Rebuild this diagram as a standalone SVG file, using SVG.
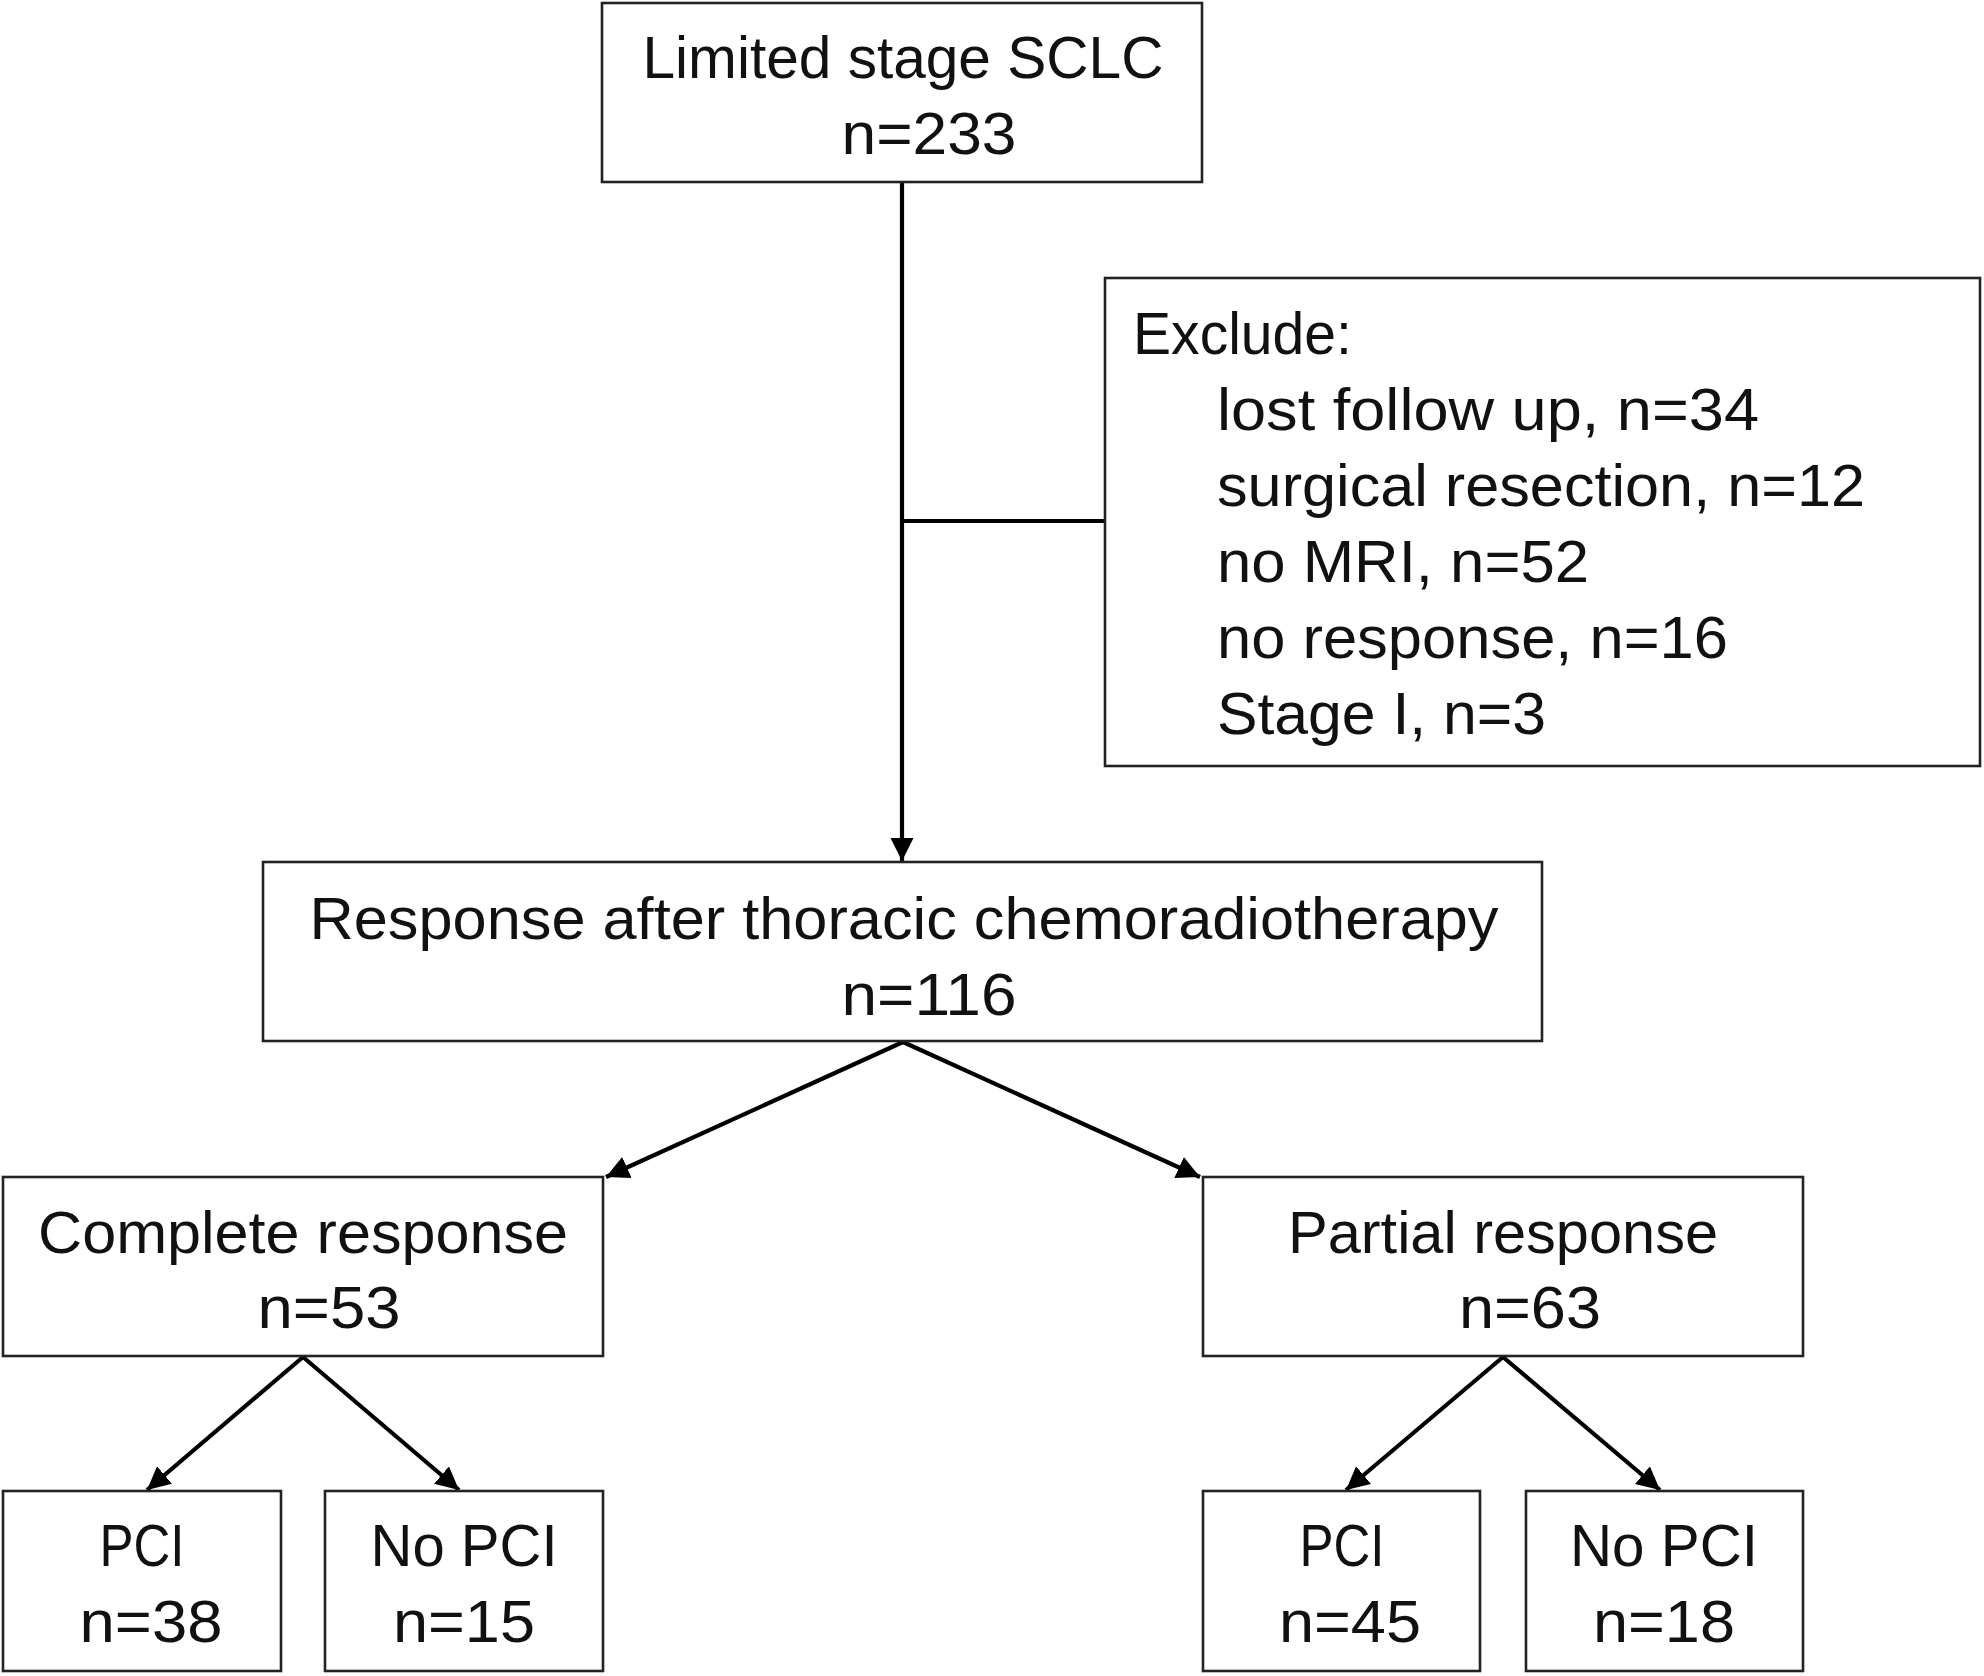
<svg xmlns="http://www.w3.org/2000/svg" width="1984" height="1676" viewBox="0 0 1984 1676">
<style>
.box{fill:#fff;stroke:#222;stroke-width:2.6}
.t{font-family:"Liberation Sans","Noto Sans",Arial,sans-serif;font-size:60px;fill:#111}
.c{text-anchor:middle}
.l{text-anchor:start}
.con{stroke:#000;stroke-width:4.2;fill:none}
</style>
<defs>
<marker id="ah" markerUnits="userSpaceOnUse" markerWidth="26" markerHeight="24" refX="23" refY="11.5" orient="auto">
<path d="M0,0 L23,11.5 L0,23 Z" fill="#000"/>
</marker>
</defs>
<rect width="1984" height="1676" fill="#fff"/>
<g id="connectors">
<line class="con" x1="902" y1="182" x2="902" y2="861" marker-end="url(#ah)"/>
<line class="con" x1="902" y1="521" x2="1105" y2="521"/>
<line class="con" x1="903" y1="1042" x2="606" y2="1177" marker-end="url(#ah)"/>
<line class="con" x1="903" y1="1042" x2="1200" y2="1177" marker-end="url(#ah)"/>
<line class="con" x1="303" y1="1357" x2="147" y2="1490" marker-end="url(#ah)"/>
<line class="con" x1="303" y1="1357" x2="459" y2="1490" marker-end="url(#ah)"/>
<line class="con" x1="1503" y1="1357" x2="1346" y2="1490" marker-end="url(#ah)"/>
<line class="con" x1="1503" y1="1357" x2="1660" y2="1490" marker-end="url(#ah)"/>
</g>
<g id="n-limited">
<rect class="box" x="602" y="3" width="600" height="179"/>
<text class="t c" x="903" y="78" textLength="521" lengthAdjust="spacingAndGlyphs">Limited stage SCLC</text>
<text class="t c" x="929" y="154" textLength="175" lengthAdjust="spacingAndGlyphs">n=233</text>
</g>
<g id="n-exclude">
<rect class="box" x="1105" y="278" width="875" height="488"/>
<text class="t l" x="1133" y="354" textLength="219" lengthAdjust="spacingAndGlyphs">Exclude:</text>
<text class="t l" x="1217" y="430" textLength="542" lengthAdjust="spacingAndGlyphs">lost follow up, n=34</text>
<text class="t l" x="1217" y="506" textLength="648" lengthAdjust="spacingAndGlyphs">surgical resection, n=12</text>
<text class="t l" x="1217" y="582" textLength="372" lengthAdjust="spacingAndGlyphs">no MRI, n=52</text>
<text class="t l" x="1217" y="658" textLength="511" lengthAdjust="spacingAndGlyphs">no response, n=16</text>
<text class="t l" x="1217" y="734" textLength="329" lengthAdjust="spacingAndGlyphs">Stage I, n=3</text>
</g>
<g id="n-response">
<rect class="box" x="263" y="862" width="1279" height="179"/>
<text class="t c" x="904" y="939" textLength="1189" lengthAdjust="spacingAndGlyphs">Response after thoracic chemoradiotherapy</text>
<text class="t c" x="929" y="1015" textLength="175" lengthAdjust="spacingAndGlyphs">n=116</text>
</g>
<g id="n-complete">
<rect class="box" x="3" y="1177" width="600" height="179"/>
<text class="t c" x="303" y="1253" textLength="530" lengthAdjust="spacingAndGlyphs">Complete response</text>
<text class="t c" x="329" y="1328" textLength="143" lengthAdjust="spacingAndGlyphs">n=53</text>
</g>
<g id="n-partial">
<rect class="box" x="1203" y="1177" width="600" height="179"/>
<text class="t c" x="1503" y="1253" textLength="430" lengthAdjust="spacingAndGlyphs">Partial response</text>
<text class="t c" x="1530" y="1328" textLength="142" lengthAdjust="spacingAndGlyphs">n=63</text>
</g>
<g id="n-cr-pci">
<rect class="box" x="3" y="1491" width="278" height="180"/>
<text class="t c" x="142" y="1566" textLength="85" lengthAdjust="spacingAndGlyphs">PCI</text>
<text class="t c" x="151" y="1642" textLength="143" lengthAdjust="spacingAndGlyphs">n=38</text>
</g>
<g id="n-cr-nopci">
<rect class="box" x="325" y="1491" width="278" height="180"/>
<text class="t c" x="464" y="1566" textLength="187" lengthAdjust="spacingAndGlyphs">No PCI</text>
<text class="t c" x="464" y="1642" textLength="142" lengthAdjust="spacingAndGlyphs">n=15</text>
</g>
<g id="n-pr-pci">
<rect class="box" x="1203" y="1491" width="277" height="180"/>
<text class="t c" x="1342" y="1566" textLength="85" lengthAdjust="spacingAndGlyphs">PCI</text>
<text class="t c" x="1350" y="1642" textLength="142" lengthAdjust="spacingAndGlyphs">n=45</text>
</g>
<g id="n-pr-nopci">
<rect class="box" x="1526" y="1491" width="277" height="180"/>
<text class="t c" x="1664" y="1566" textLength="188" lengthAdjust="spacingAndGlyphs">No PCI</text>
<text class="t c" x="1664" y="1642" textLength="142" lengthAdjust="spacingAndGlyphs">n=18</text>
</g>
</svg>
